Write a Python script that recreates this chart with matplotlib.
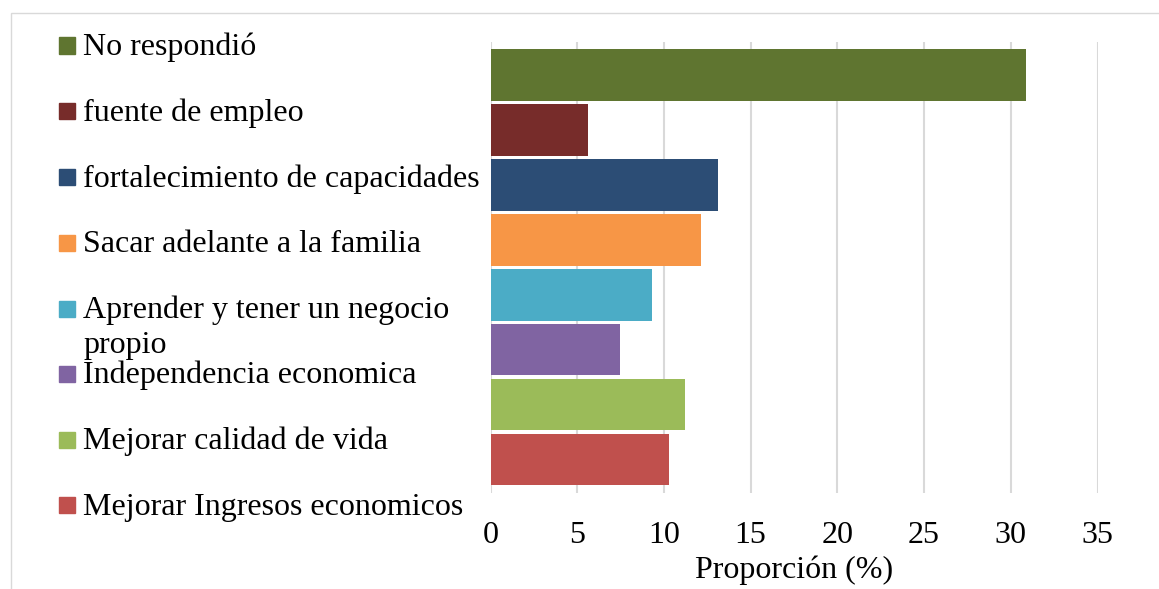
import matplotlib.pyplot as plt
from matplotlib.patches import Rectangle

# data (bottom to top, as drawn)
categorias = ["Mejorar Ingresos economicos", "Mejorar calidad de vida",
              "Independencia economica", "Aprender y tener un negocio\npropio",
              "Sacar adelante a la familia", "fortalecimiento de capacidades",
              "fuente de empleo", "No respondió"]
valores = [10.32, 11.23, 7.47, 9.33, 12.12, 13.09, 5.64, 30.89]
colores = ["#C0504D", "#9BBB59", "#8064A2", "#4BACC6",
           "#F79646", "#2C4D75", "#772C2A", "#5F7530"]
ticks_x = [0, 5, 10, 15, 20, 25, 30, 35]

plt.rcParams['font.family'] = ['Liberation Serif', 'DejaVu Serif']
FS = 23

W, H = 1159, 589
fig = plt.figure(figsize=(W / 100, H / 100), dpi=100)
ax = fig.add_axes([490.5 / W, 1 - 493 / H, (1097.5 - 490.5) / W, (493 - 42) / H])

pos = list(range(len(categorias)))
ax.barh(pos, valores, height=0.94, color=colores, zorder=2)

ax.set_xlim(0, 35)
ax.set_ylim(-0.61, 7.60)
ax.set_xticks(ticks_x)
ax.set_yticks([])
ax.tick_params(axis='x', length=0, pad=20, labelsize=FS, colors='black')
ax.grid(axis='x', color='#d9d9d9', linewidth=1.5, zorder=0)
for s in ax.spines.values():
    s.set_visible(False)
ax.set_xlabel("Proporción (%)", fontsize=FS, labelpad=4)

# legend on the left, top entry = last bar (marker centres in pixels)
y_items = [45.5, 111, 177, 243, 308.5, 374, 439.5, 505]
for i, yy in enumerate(y_items):
    k = len(categorias) - 1 - i
    fig.patches.append(Rectangle((59 / W, 1 - (yy + 8) / H), 16 / W, 16 / H,
                                 transform=fig.transFigure, color=colores[k]))
    lineas = categorias[k].split("\n")
    for j, txt in enumerate(lineas):
        fig.text(83 / W, 1 - (yy + 9.5 + 35 * j) / H, txt,
                 fontsize=FS, va='baseline')

# outer chart frame
fig.patches.append(Rectangle((11 / W, -0.1), 1.2, 1 - 13 / H + 0.1,
                             transform=fig.transFigure, fill=False,
                             edgecolor='#d9d9d9', linewidth=1))

fig.savefig("out.png", dpi=100)
